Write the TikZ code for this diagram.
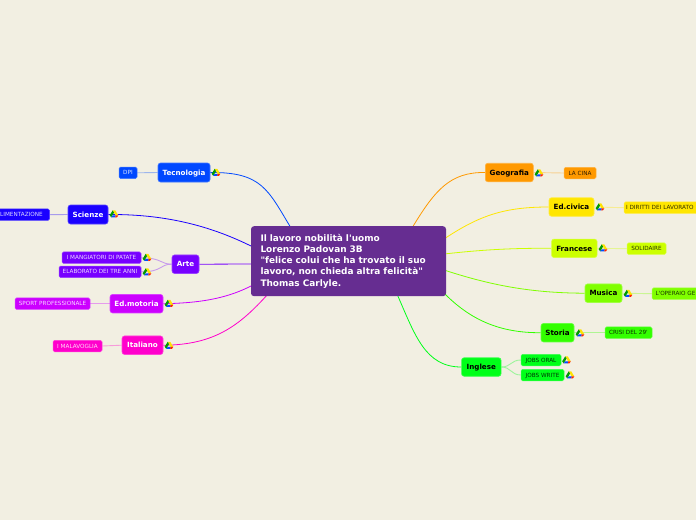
\documentclass[tikz,border=0pt]{standalone}
\usepackage{fontspec}
\setmainfont{DejaVu Sans}
\usepackage{xcolor}
\definecolor{paper}{RGB}{242,239,226}
\definecolor{central}{RGB}{102,45,145}
\definecolor{tecnocol}{RGB}{0,72,255}
\definecolor{scienzecol}{RGB}{26,0,255}
\definecolor{artecol}{RGB}{119,0,255}
\definecolor{motoriacol}{RGB}{204,0,255}
\definecolor{italianocol}{RGB}{255,0,204}
\definecolor{geocol}{RGB}{255,153,0}
\definecolor{civicacol}{RGB}{255,230,0}
\definecolor{francol}{RGB}{204,255,0}
\definecolor{musicacol}{RGB}{128,255,0}
\definecolor{storiacol}{RGB}{51,255,0}
\definecolor{inglesecol}{RGB}{0,255,25}
\usepackage{tikz}
\usetikzlibrary{backgrounds}
\tikzset{
  branch/.style={rectangle, rounded corners=2.5pt, inner sep=0pt, fill=#1, draw=#1!75!white, line width=0.6pt, text height=5.4pt, text depth=0pt, font=\fontsize{7.15}{9}\selectfont\bfseries},
  leaf/.style={rectangle, rounded corners=1.5pt, inner sep=0pt, minimum height=11.5pt, fill=#1, draw=#1!75!white, line width=0.5pt, text height=4.2pt, text depth=0pt, font=\fontsize{5.7}{6}\selectfont},
  link/.style={#1, line width=0.8pt},
  sublink/.style={#1!35!paper, line width=0.9pt},
  drive/.pic={
    \fill[yellow!85!orange] (-1.3,-3.6) -- (1.3,-3.6) -- (4.3,1.4) -- (1.6,1.4) -- cycle;
    \fill[green!60!black] (-1.3,-3.6) -- (0,-1.4) -- (-2.8,3.4) -- (-4.3,1.2) -- cycle;
    \fill[blue!70!cyan] (-1.4,1.4) -- (1.8,1.4) -- (1.2,3.4) -- (-2.8,3.4) -- cycle;
    \fill[red!75!orange] (1.8,1.4) -- (4.3,1.4) -- (2.9,3.4) -- (1.2,3.4) -- cycle;
  }
}

\begin{document}
\begin{tikzpicture}[x=1pt, y=-1pt]
\useasboundingbox (0,0) rectangle (696,520);
\clip (0,0) rectangle (696,520);
% centre
\node[rectangle, rounded corners=3pt, fill=central, text=white, inner sep=0pt, minimum width=195pt, minimum height=70pt, text width=176pt, align=left, font=\fontsize{8.95}{11.1}\selectfont\bfseries] (lavoro) at (348.5,261.2) {Il lavoro nobilità l\textquotesingle uomo\\Lorenzo Padovan 3B\\\textquotedbl felice colui che ha trovato il suo\\lavoro, non chieda altra felicità\textquotedbl\\Thomas Carlyle.};
% left side
\node[branch=tecnocol, text=white, minimum width=52pt, minimum height=19pt] (tecnologia) at (184,172.5) {Tecnologia};
\node[leaf=tecnocol, text=white!85!tecnocol, minimum width=18pt] (dpi) at (128,172.8) {DPI};
\node[branch=scienzecol, text=white, minimum width=40pt, minimum height=19pt] (scienze) at (88,214.5) {Scienze};
\node[leaf=scienzecol, text=white!85!scienzecol, minimum width=60pt] (alimentazione) at (19.5,214.7) {ALIMENTAZIONE};
\node[branch=artecol, text=white, minimum width=27pt, minimum height=18.5pt] (arte) at (185.5,264.2) {Arte};
\node[leaf=artecol, text=white!85!artecol, minimum width=79pt] (mangiatori) at (101.5,257.7) {I MANGIATORI DI PATATE};
\node[leaf=artecol, text=white!85!artecol, minimum width=82pt] (elaborato) at (100,271.8) {ELABORATO DEI TRE ANNI};
\node[branch=motoriacol, text=white, minimum width=53pt, minimum height=18.5pt] (motoria) at (136.5,303.7) {Ed.motoria};
\node[leaf=motoriacol, text=white!85!motoriacol, minimum width=75pt] (sport) at (52.5,303.7) {SPORT PROFESSIONALE};
\node[branch=italianocol, text=white, minimum width=41pt, minimum height=18.5pt] (italiano) at (142.5,345.2) {Italiano};
\node[leaf=italianocol, text=white!85!italianocol, minimum width=49pt] (malavoglia) at (77.5,346) {I MALAVOGLIA};
% right side
\node[branch=geocol, minimum width=48pt, minimum height=18.5pt] (geografia) at (509.3,172.5) {Geografia};
\node[leaf=geocol, text=black!80!geocol, minimum width=32pt] (cina) at (580,173) {LA CINA};
\node[branch=civicacol, minimum width=45pt, minimum height=18.5pt] (civica) at (571.5,207) {Ed.civica};
\node[leaf=civicacol, text=black!80!civicacol, minimum width=78pt, text width=74pt, align=left] (diritti) at (663,207.7) {I DIRITTI DEI LAVORATO};
\node[branch=francol, minimum width=45.5pt, minimum height=18.5pt] (francese) at (574.3,248.3) {Francese};
\node[leaf=francol, text=black!80!francol, minimum width=39pt] (solidaire) at (646.5,248.7) {SOLIDAIRE};
\node[branch=musicacol, minimum width=37pt, minimum height=18.5pt] (musica) at (603.5,293.2) {Musica};
\node[leaf=musicacol, text=black!80!musicacol, minimum width=50pt, text width=43pt, align=left] (operaio) at (677,293.7) {L\textquotesingle OPERAIO GE};
\node[branch=storiacol, minimum width=33pt, minimum height=18.5pt] (storia) at (557.5,332.7) {Storia};
\node[leaf=storiacol, text=black!80!storiacol, minimum width=47pt] (crisi) at (628.5,332.7) {CRISI DEL 29\textquotesingle};
\node[branch=inglesecol, minimum width=39.5pt, minimum height=18.5pt] (inglese) at (481.3,367) {Inglese};
\node[leaf=inglesecol, text=black!80!inglesecol, minimum width=40pt] (orale) at (541,360) {JOBS ORAL};
\node[leaf=inglesecol, text=black!80!inglesecol, minimum width=43pt] (scritto) at (542.5,375) {JOBS WRITE};
% where the curves meet the centre
\coordinate (intecno) at (291,228);
\coordinate (inscienze) at (253,247);
\coordinate (inarte) at (253,264);
\coordinate (inmotoria) at (253,285);
\coordinate (initaliano) at (268,294);
\coordinate (ingeo) at (412,228);
\coordinate (incivica) at (444,239);
\coordinate (infran) at (444,254);
\coordinate (inmusica) at (444,270);
\coordinate (instoria) at (443,292);
\coordinate (iningl) at (397,294);
\begin{scope}[on background layer]
\fill[paper] (0,0) rectangle (696,520);
\draw[link=tecnocol] (tecnologia.east) .. controls (262,172) and (268,190) .. (intecno);
\draw[link=scienzecol] (scienze.east) .. controls (170,214) and (215,228) .. (inscienze);
\draw[link=artecol] (arte.east) -- (inarte);
\draw[link=motoriacol] (motoria.east) .. controls (205,303) and (230,297) .. (inmotoria);
\draw[link=italianocol] (italiano.east) .. controls (215,345) and (240,325) .. (initaliano);
\draw[link=geocol] (geografia.west) .. controls (450,172) and (435,190) .. (ingeo);
\draw[link=civicacol] (civica.west) .. controls (505,207) and (480,215) .. (incivica);
\draw[link=francol] (francese.west) .. controls (510,248) and (480,250) .. (infran);
\draw[link=musicacol] (musica.west) .. controls (530,293) and (490,285) .. (inmusica);
\draw[link=storiacol] (storia.west) .. controls (500,333) and (470,320) .. (instoria);
\draw[link=inglesecol] (inglese.west) .. controls (425,367) and (415,335) .. (iningl);
\draw[sublink=tecnocol] (tecnologia.west) -- (dpi.east);
\draw[sublink=scienzecol] (scienze.west) -- (alimentazione.east);
\draw[sublink=artecol] (arte.west) .. controls (160,264) and (162,258) .. (mangiatori.east);
\draw[sublink=artecol] (arte.west) .. controls (160,264) and (162,272) .. (elaborato.east);
\draw[sublink=motoriacol] (motoria.west) -- (sport.east);
\draw[sublink=italianocol] (italiano.west) -- (malavoglia.east);
\draw[sublink=geocol] (geografia.east) -- (cina.west);
\draw[sublink=civicacol] (civica.east) -- (diritti.west);
\draw[sublink=francol] (francese.east) -- (solidaire.west);
\draw[sublink=musicacol] (musica.east) -- (operaio.west);
\draw[sublink=storiacol] (storia.east) -- (crisi.west);
\draw[sublink=inglesecol] (inglese.east) .. controls (511,367) and (511,360) .. (orale.west);
\draw[sublink=inglesecol] (inglese.east) .. controls (511,367) and (511,375) .. (scritto.west);
\end{scope}
% drive marks
\pic at (216,172.5) {drive};
\pic at (114,214) {drive};
\pic at (147,257.5) {drive};
\pic at (147,272) {drive};
\pic at (169,303.5) {drive};
\pic at (169,345.5) {drive};
\pic at (539,173) {drive};
\pic at (600,207) {drive};
\pic at (603,248) {drive};
\pic at (628,293.5) {drive};
\pic at (580,333) {drive};
\pic at (566.5,360) {drive};
\pic at (570,375) {drive};
\end{tikzpicture}
\end{document}
